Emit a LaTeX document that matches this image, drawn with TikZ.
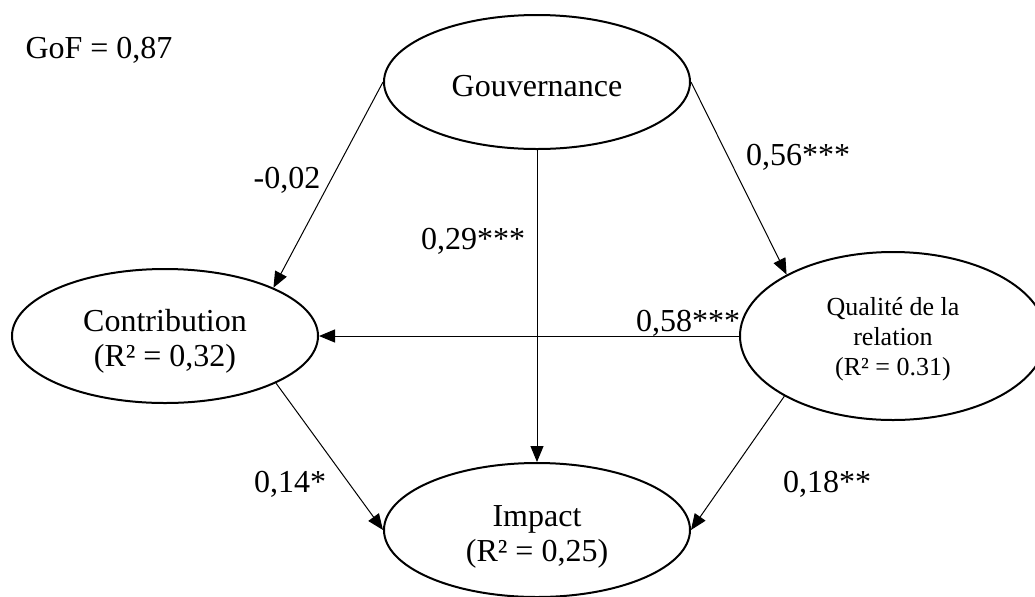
\documentclass[tikz,border=0pt]{standalone}
\usepackage{fontspec}
\setmainfont{Liberation Serif}
\usetikzlibrary{shapes.geometric,arrows.meta}
\begin{document}
\begin{tikzpicture}[x=0.5pt,y=-0.5pt,
  latent/.style={ellipse,draw,line width=1pt,inner sep=0pt,
    minimum width=153pt,minimum height=67pt},
  inside/.style={align=center,inner sep=0pt,
    font=\fontsize{16}{17.5}\selectfont},
  path/.style={line width=0.5pt,-{Triangle[length=8pt,width=6.5pt]}},
  coef/.style={font=\fontsize{16}{18}\selectfont,inner sep=0pt}]
\useasboundingbox (0,0) rectangle (1035,596);
\clip (0,0) rectangle (1035,596);
% latent variables
\node[latent] (gouv) at (537,82) {};
\node[latent] (contrib) at (165,336) {};
\node[latent] (impact) at (537,530) {};
\node[latent,minimum height=84pt] (qual) at (893,336) {};
\node[inside] (gouvtext) at (537,86) {Gouvernance};
\node[inside] (contribtext) at (165,341) {Contribution\\(R² = 0,32)};
\node[inside] (impacttext) at (537,537) {Impact\\(R² = 0,25)};
\node[inside,font=\fontsize{13}{15}\selectfont] (qualtext) at (893,339)
  {Qualité de la\\relation\\(R² = 0.31)};
% structural paths
\draw[path] (gouv.west) -- (contrib.24.5);
\draw[path] (gouv.south) -- (impact.north);
\draw[path] (gouv.east) -- (qual.150.6);
\draw[path] (qual.west) -- (contrib.east);
\draw[path] (contrib.-23.8) -- (impact.west);
\draw[path] (qual.209.5) -- (impact.east);
% path coefficients
\node[coef] (gof) at (99,50) {GoF = 0,87};
\node[coef] (c1) at (287,180) {-0,02};
\node[coef] (c2) at (473,241) {0,29***};
\node[coef] (c3) at (798,157) {0,56***};
\node[coef] (c4) at (688,323) {0,58***};
\node[coef] (c5) at (290,484) {0,14*};
\node[coef] (c6) at (827,484) {0,18**};
\end{tikzpicture}
\end{document}
